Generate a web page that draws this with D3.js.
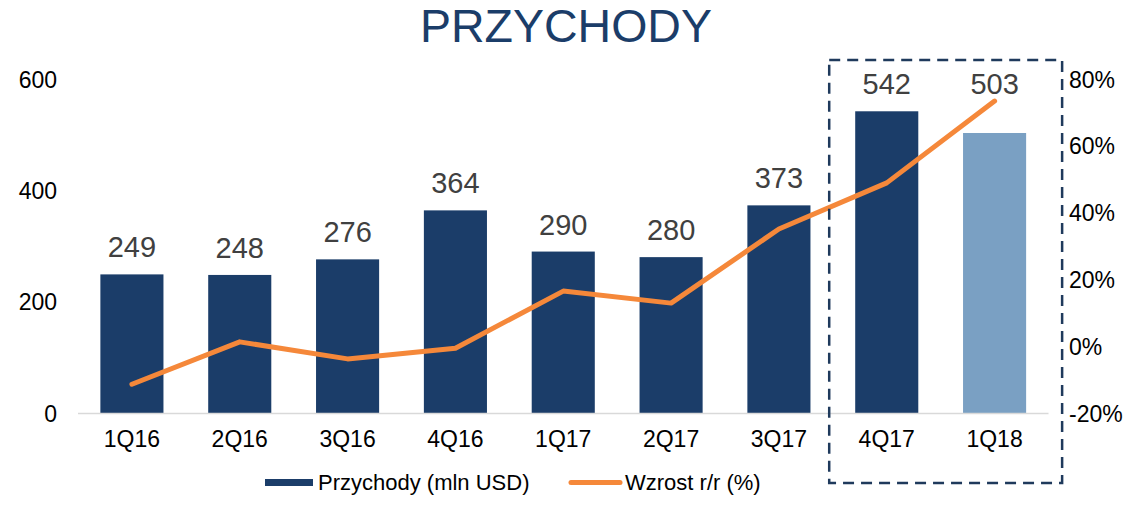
<!DOCTYPE html>
<html>
<head>
<meta charset="utf-8">
<script src="https://cdn.jsdelivr.net/npm/d3@7"></script>
<style>
    html, body { margin: 0; padding: 0; background: #fff; }
    svg text { font-family: "Liberation Sans", Arial, sans-serif; }
</style>
</head>
<body>
<svg id="chart" width="1140" height="509"></svg>
<script>
var categories = ['1Q16', '2Q16', '3Q16', '4Q16', '1Q17', '2Q17', '3Q17', '4Q17', '1Q18'];
var revenue = [249, 248, 276, 364, 290, 280, 373, 542, 503];
var growth = [-11.4, 1.3, -3.8, -0.6, 16.5, 12.9, 35.1, 48.9, 73.4];
var leftTicks = [0, 200, 400, 600];
var rightTicks = [-20, 0, 20, 40, 60, 80];
var highlighted = ['4Q17', '1Q18'];

var BAR_DARK = '#1b3d69',
    BAR_LIGHT = '#7aa0c3',
    LINE_COLOR = '#f5883a',
    TEXT_DARK = '#404040';

function drawChart() {
    var svg = d3.select('#chart');

    var x = d3.scaleBand()
        .domain(categories)
        .range([78, 1048.5])
        .paddingInner(0.415)
        .paddingOuter(0.2075);

    var yLeft = d3.scaleLinear().domain([0, 600]).range([413, 79]);
    var yRight = d3.scaleLinear().domain([-20, 80]).range([413, 79]);

    // title
    svg.append('text')
        .attr('x', 566)
        .attr('y', 42)
        .attr('text-anchor', 'middle')
        .attr('font-size', 46.5)
        .attr('fill', '#1b3d69')
        .text('PRZYCHODY');

    // left axis
    var left = svg.append('g').attr('transform', 'translate(57,0)')
        .call(d3.axisLeft(yLeft).tickValues(leftTicks).tickSize(0).tickPadding(0));
    left.select('.domain').remove();
    left.selectAll('text').attr('font-size', 23).attr('fill', '#000').attr('dy', '0.35em');

    // right axis
    var right = svg.append('g').attr('transform', 'translate(1069,0)')
        .call(d3.axisRight(yRight).tickValues(rightTicks).tickSize(0).tickPadding(0)
            .tickFormat(function(d) { return d + '%'; }));
    right.select('.domain').remove();
    right.selectAll('text').attr('font-size', 23).attr('fill', '#000').attr('dy', '0.35em');

    // bars
    svg.append('g').selectAll('rect')
        .data(categories)
        .join('rect')
        .attr('x', function(d) { return x(d); })
        .attr('width', x.bandwidth())
        .attr('y', function(d, i) { return yLeft(revenue[i]); })
        .attr('height', function(d, i) { return yLeft(0) - yLeft(revenue[i]); })
        .attr('fill', function(d, i) { return i === categories.length - 1 ? BAR_LIGHT : BAR_DARK; });

    // baseline
    svg.append('line')
        .attr('x1', 78).attr('x2', 1048.5)
        .attr('y1', yLeft(0) + 0.5).attr('y2', yLeft(0) + 0.5)
        .attr('stroke', '#d9d9d9').attr('stroke-width', 1.5);

    // value labels: highlighted pair shares the top of its taller bar
    var groupMax = d3.max(highlighted, function(c) { return revenue[categories.indexOf(c)]; });
    svg.append('g').selectAll('text')
        .data(categories)
        .join('text')
        .attr('x', function(d) { return x(d) + x.bandwidth() / 2; })
        .attr('y', function(d, i) {
            var v = highlighted.indexOf(d) >= 0 ? groupMax : revenue[i];
            return yLeft(v) - 17;
        })
        .attr('text-anchor', 'middle')
        .attr('font-size', 29)
        .attr('fill', TEXT_DARK)
        .text(function(d, i) { return revenue[i]; });

    // category labels
    svg.append('g').selectAll('text')
        .data(categories)
        .join('text')
        .attr('x', function(d) { return x(d) + x.bandwidth() / 2; })
        .attr('y', 447)
        .attr('text-anchor', 'middle')
        .attr('font-size', 23)
        .attr('fill', '#000')
        .text(function(d) { return d; });

    // growth line
    var line = d3.line()
        .x(function(d, i) { return x(categories[i]) + x.bandwidth() / 2; })
        .y(function(d) { return yRight(d); });
    svg.append('path')
        .datum(growth)
        .attr('d', line)
        .attr('fill', 'none')
        .attr('stroke', LINE_COLOR)
        .attr('stroke-width', 5)
        .attr('stroke-linecap', 'round')
        .attr('stroke-linejoin', 'round');

    // dashed highlight box
    var boxL = x(highlighted[0]) - 26,
        boxR = x(highlighted[highlighted.length - 1]) + x.bandwidth() + 36;
    svg.append('rect')
        .attr('x', boxL).attr('y', 60)
        .attr('width', boxR - boxL).attr('height', 423)
        .attr('fill', 'none')
        .attr('stroke', '#1f3a5c')
        .attr('stroke-width', 2.5)
        .attr('stroke-dasharray', '11,7');

    // legend
    var legend = svg.append('g');
    legend.append('rect')
        .attr('x', 265).attr('y', 479).attr('width', 48).attr('height', 7)
        .attr('fill', BAR_DARK);
    legend.append('text')
        .attr('x', 318).attr('y', 490)
        .attr('font-size', 22).attr('fill', '#000')
        .text('Przychody (mln USD)');
    legend.append('line')
        .attr('x1', 571).attr('x2', 620).attr('y1', 482.5).attr('y2', 482.5)
        .attr('stroke', LINE_COLOR).attr('stroke-width', 5).attr('stroke-linecap', 'round');
    legend.append('text')
        .attr('x', 625).attr('y', 490)
        .attr('font-size', 22).attr('fill', '#000')
        .text('Wzrost r/r (%)');
}

drawChart();
</script>
</body>
</html>
